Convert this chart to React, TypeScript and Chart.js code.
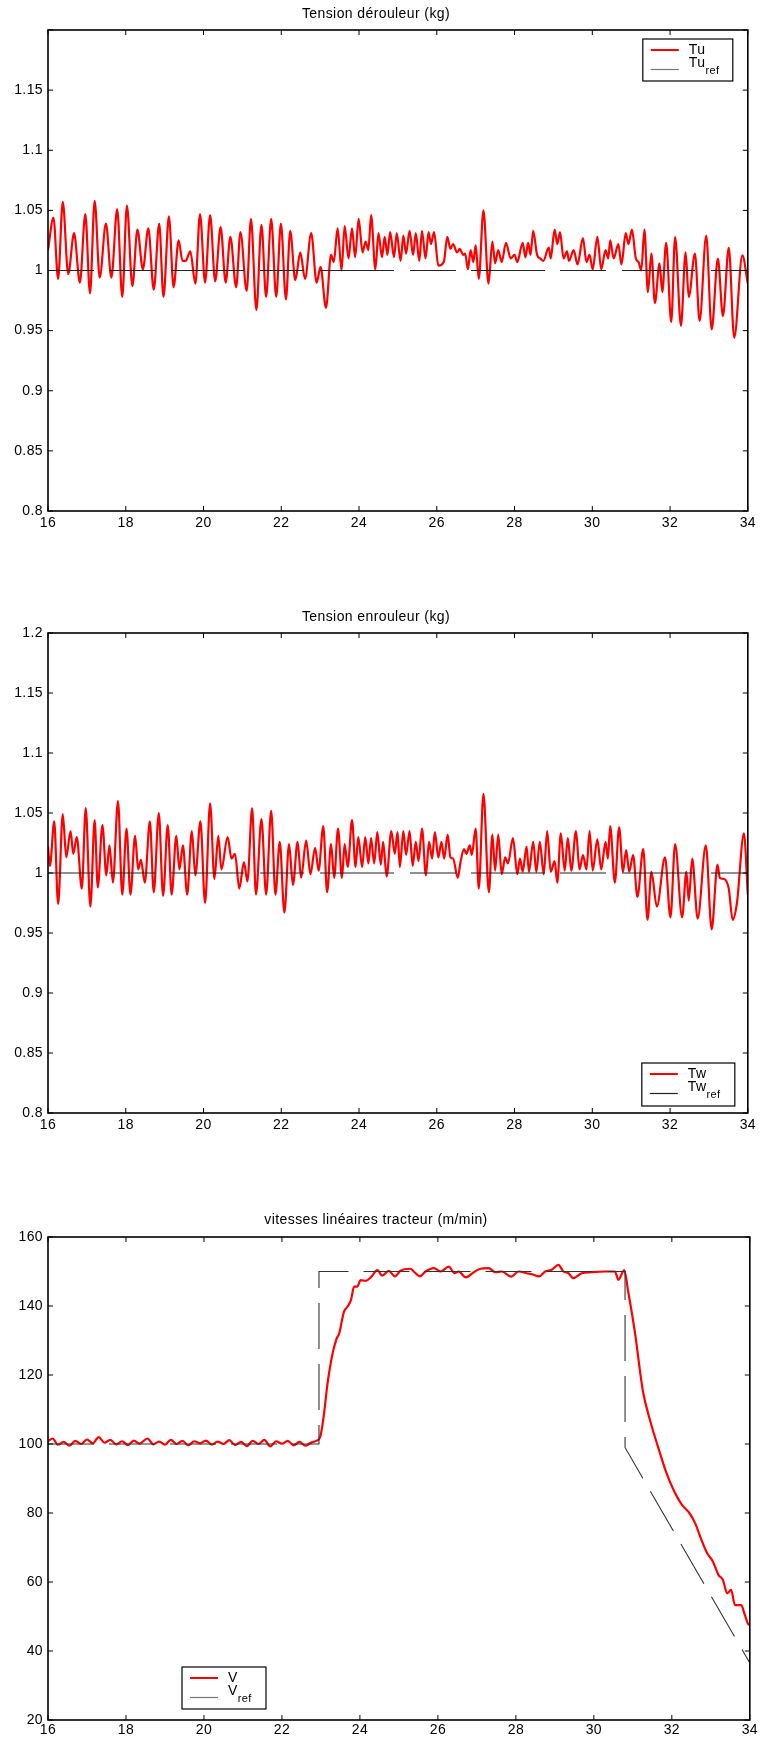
import React, { useEffect, useRef } from 'react';
import { Chart, registerables } from 'chart.js';

Chart.register(...registerables);

const FONT = "'Liberation Sans', Arial, Helvetica, sans-serif";
Chart.defaults.font.family = FONT;
Chart.defaults.font.size = 14;
Chart.defaults.color = '#000';

// ---------- axis ticks ----------
const timeTicks = [16, 18, 20, 22, 24, 26, 28, 30, 32, 34];
const timeTickLabels = ['16', '18', '20', '22', '24', '26', '28', '30', '32', '34'];
const tensionTicks = [0.8, 0.85, 0.9, 0.95, 1, 1.05, 1.1, 1.15, 1.2];
const tuTickLabels = ['0.8', '0.85', '0.9', '0.95', '1', '1.05', '1.1', '1.15', ''];
const twTickLabels = ['0.8', '0.85', '0.9', '0.95', '1', '1.05', '1.1', '1.15', '1.2'];
const speedTicks = [20, 40, 60, 80, 100, 120, 140, 160];
const speedTickLabels = ['20', '40', '60', '80', '100', '120', '140', '160'];

// ---------- Tension dérouleur ----------
const tuTime = [
  16.00, 16.14, 16.26, 16.38, 16.52, 16.67, 16.82, 16.96, 17.08, 17.20,
  17.33, 17.49, 17.63, 17.78, 17.91, 18.03, 18.17, 18.30, 18.44, 18.58,
  18.72, 18.86, 18.97, 19.11, 19.23, 19.36, 19.46, 19.54, 19.66, 19.79,
  19.91, 20.04, 20.17, 20.30, 20.44, 20.57, 20.69, 20.84, 20.95, 21.11,
  21.22, 21.36, 21.49, 21.61, 21.74, 21.87, 21.99, 22.12, 22.23, 22.36,
  22.49, 22.61, 22.77, 22.91, 23.01, 23.15, 23.28, 23.35, 23.45, 23.55,
  23.63, 23.73, 23.82, 23.90, 23.99, 24.09, 24.17, 24.24, 24.31, 24.42,
  24.50, 24.59, 24.66, 24.73, 24.80, 24.90, 24.97, 25.07, 25.14, 25.21,
  25.30, 25.39, 25.46, 25.55, 25.62, 25.71, 25.79, 25.85, 25.93, 26.04,
  26.18, 26.27, 26.35, 26.42, 26.52, 26.59, 26.68, 26.73, 26.80, 26.87,
  26.94, 27.00, 27.08, 27.20, 27.33, 27.43, 27.50, 27.58, 27.67, 27.78,
  27.90, 28.00, 28.07, 28.21, 28.28, 28.35, 28.41, 28.48, 28.58, 28.66,
  28.74, 28.88, 28.93, 29.03, 29.10, 29.17, 29.26, 29.35, 29.40, 29.52,
  29.62, 29.76, 29.85, 29.93, 30.01, 30.13, 30.23, 30.34, 30.41, 30.46,
  30.55, 30.67, 30.75, 30.86, 30.93, 31.02, 31.12, 31.19, 31.26, 31.34,
  31.43, 31.52, 31.61, 31.73, 31.80, 31.90, 32.03, 32.13, 32.28, 32.40,
  32.48, 32.64, 32.76, 32.93, 33.07, 33.23, 33.36, 33.51, 33.65, 33.86, 34.00,
];
const tuValues = [
  1.017, 1.044, 0.993, 1.057, 0.997, 1.031, 0.990, 1.047, 0.981, 1.058,
  0.994, 1.039, 0.994, 1.051, 0.978, 1.054, 0.987, 1.034, 1.001, 1.035,
  0.984, 1.039, 0.978, 1.045, 0.986, 1.025, 1.008, 1.008, 1.016, 0.989,
  1.047, 0.990, 1.046, 0.991, 1.036, 0.990, 1.028, 0.986, 1.032, 0.983,
  1.043, 0.967, 1.038, 0.978, 1.043, 0.978, 1.039, 0.976, 1.033, 0.992,
  1.015, 0.993, 1.031, 0.990, 1.003, 0.969, 1.013, 1.007, 1.035, 1.000,
  1.037, 1.010, 1.035, 1.011, 1.043, 1.015, 1.024, 1.017, 1.046, 1.001,
  1.031, 1.011, 1.028, 1.013, 1.032, 1.011, 1.031, 1.008, 1.029, 1.014,
  1.033, 1.013, 1.031, 1.008, 1.033, 1.010, 1.032, 1.022, 1.032, 1.004,
  1.007, 1.028, 1.018, 1.022, 1.015, 1.018, 1.013, 1.014, 1.001, 1.017,
  1.007, 1.021, 0.993, 1.050, 0.989, 1.024, 1.006, 1.017, 1.007, 1.023,
  1.010, 1.013, 1.007, 1.023, 1.011, 1.023, 1.013, 1.033, 1.013, 1.010,
  1.008, 1.019, 1.010, 1.034, 1.022, 1.032, 1.010, 1.016, 1.008, 1.017,
  1.005, 1.027, 1.007, 1.013, 1.001, 1.028, 1.001, 1.017, 1.010, 1.025,
  1.010, 1.022, 1.005, 1.031, 1.022, 1.034, 1.010, 1.007, 1.000, 1.034,
  0.982, 1.014, 0.973, 1.006, 0.982, 1.023, 0.957, 1.028, 0.954, 1.015,
  0.978, 1.014, 0.958, 1.029, 0.951, 1.010, 0.962, 1.019, 0.944, 1.0125, 0.989,
];
const tuRefTime = [16, 34];
const tuRefValues = [1, 1];

// ---------- Tension enrouleur ----------
const twTime = [
  16.00, 16.05, 16.16, 16.26, 16.38, 16.47, 16.58, 16.65, 16.74, 16.87,
  16.97, 17.09, 17.20, 17.28, 17.40, 17.50, 17.58, 17.67, 17.80, 17.91,
  18.02, 18.12, 18.24, 18.32, 18.39, 18.49, 18.62, 18.72, 18.85, 18.96,
  19.08, 19.18, 19.30, 19.38, 19.47, 19.58, 19.70, 19.79, 19.92, 20.04,
  20.17, 20.28, 20.38, 20.46, 20.62, 20.72, 20.81, 20.92, 21.04, 21.13,
  21.25, 21.35, 21.49, 21.61, 21.74, 21.85, 21.96, 22.08, 22.20, 22.30,
  22.42, 22.51, 22.64, 22.75, 22.87, 22.96, 23.08, 23.18, 23.28, 23.36,
  23.46, 23.56, 23.63, 23.71, 23.82, 23.91, 23.98, 24.08, 24.16, 24.24,
  24.31, 24.39, 24.47, 24.56, 24.62, 24.71, 24.83, 24.92, 24.99, 25.05,
  25.14, 25.21, 25.30, 25.38, 25.46, 25.53, 25.62, 25.72, 25.80, 25.88,
  25.95, 26.04, 26.12, 26.19, 26.28, 26.35, 26.42, 26.54, 26.61, 26.70,
  26.76, 26.85, 26.90, 27.00, 27.08, 27.20, 27.34, 27.43, 27.50, 27.58,
  27.67, 27.76, 27.83, 27.96, 28.07, 28.14, 28.21, 28.31, 28.37, 28.48,
  28.56, 28.65, 28.75, 28.84, 28.93, 29.03, 29.10, 29.19, 29.29, 29.37,
  29.46, 29.58, 29.67, 29.76, 29.85, 29.93, 30.01, 30.13, 30.23, 30.34,
  30.40, 30.46, 30.58, 30.69, 30.79, 30.87, 30.95, 31.05, 31.16, 31.31,
  31.42, 31.52, 31.66, 31.87, 32.01, 32.13, 32.31, 32.42, 32.48, 32.57,
  32.71, 32.92, 33.07, 33.22, 33.28, 33.39, 33.51, 33.61, 33.72, 33.90, 34.00,
];
const twValues = [
  1.022, 1.006, 1.043, 0.974, 1.049, 1.013, 1.035, 1.016, 1.030, 0.987,
  1.054, 0.972, 1.044, 0.988, 1.040, 0.998, 1.023, 0.992, 1.060, 0.982,
  1.037, 0.982, 1.031, 1.003, 1.011, 0.992, 1.043, 0.984, 1.050, 0.981,
  1.040, 0.982, 1.031, 1.003, 1.023, 0.982, 1.035, 0.998, 1.043, 0.975,
  1.058, 0.995, 1.031, 1.003, 1.030, 1.012, 1.016, 0.987, 1.009, 0.993,
  1.054, 0.982, 1.045, 0.982, 1.052, 0.982, 1.026, 0.967, 1.024, 0.990,
  1.026, 0.996, 1.027, 0.999, 1.021, 1.002, 1.039, 0.984, 1.024, 0.996,
  1.037, 0.996, 1.024, 1.005, 1.044, 1.005, 1.030, 1.005, 1.030, 1.008,
  1.029, 1.008, 1.034, 1.007, 1.026, 0.997, 1.035, 1.016, 1.034, 1.005,
  1.035, 1.015, 1.035, 1.006, 1.026, 1.010, 1.037, 0.998, 1.026, 1.012,
  1.034, 1.013, 1.026, 1.012, 1.032, 1.013, 1.012, 0.996, 1.009, 1.020,
  1.016, 1.023, 1.015, 1.037, 0.987, 1.066, 0.984, 1.032, 1.002, 1.032,
  0.999, 1.013, 1.008, 1.029, 0.999, 1.012, 1.001, 1.022, 1.001, 1.026,
  1.001, 1.026, 0.999, 1.035, 1.001, 1.010, 0.992, 1.033, 1.002, 1.029,
  1.002, 1.035, 1.003, 1.015, 1.003, 1.035, 1.002, 1.028, 1.003, 1.026,
  1.012, 1.039, 0.992, 1.038, 1.001, 1.019, 1.001, 1.015, 0.980, 1.020,
  0.961, 1.001, 0.972, 1.013, 0.963, 1.024, 0.963, 1.001, 0.977, 1.012,
  0.962, 1.023, 0.953, 1.007, 0.996, 0.995, 0.987, 0.961, 0.975, 1.033, 0.982,
];
const twRefTime = [16, 34];
const twRefValues = [1, 1];

// ---------- vitesses linéaires tracteur ----------
const vTime = [
  16.00, 16.12, 16.25, 16.40, 16.55, 16.70, 16.85, 17.00, 17.15, 17.30,
  17.45, 17.60, 17.75, 17.90, 18.05, 18.20, 18.35, 18.55, 18.70, 18.85,
  19.00, 19.15, 19.30, 19.45, 19.60, 19.75, 19.90, 20.05, 20.20, 20.35,
  20.50, 20.65, 20.80, 20.95, 21.10, 21.25, 21.40, 21.55, 21.70, 21.85,
  22.00, 22.15, 22.30, 22.45, 22.60, 22.75, 22.88, 22.98, 23.07, 23.17,
  23.30, 23.40, 23.47, 23.59, 23.68, 23.77, 23.85, 23.93, 24.02, 24.15,
  24.28, 24.45, 24.57, 24.74, 24.90, 25.04, 25.30, 25.38, 25.54, 25.68,
  25.90, 26.07, 26.28, 26.43, 26.53, 26.72, 26.92, 27.09, 27.30, 27.47,
  27.64, 27.88, 28.07, 28.28, 28.41, 28.60, 28.75, 28.92, 29.09, 29.22,
  29.35, 29.47, 29.69, 29.94, 30.29, 30.54, 30.63, 30.78, 30.88, 31.05,
  31.26, 31.45, 31.65, 31.85, 32.05, 32.25, 32.45, 32.60, 32.75, 32.90,
  33.05, 33.20, 33.31, 33.42, 33.52, 33.62, 33.78, 33.86, 33.95, 34.00,
];
const vValues = [
  100.8, 101.6, 99.8, 100.6, 99.5, 100.9, 100.0, 101.3, 100.2, 102.0,
  100.4, 101.2, 99.9, 100.8, 99.7, 101.0, 100.1, 101.6, 99.9, 100.7,
  99.8, 101.2, 100.0, 100.9, 99.6, 100.8, 100.2, 101.0, 99.8, 100.7,
  100.0, 101.1, 99.7, 100.6, 99.4, 100.9, 100.0, 101.2, 99.3, 100.8,
  100.1, 100.9, 99.6, 100.6, 99.5, 100.4, 100.9, 102.0, 108.0, 117.6,
  126.3, 130.5, 132.1, 138.3, 139.8, 141.7, 145.6, 145.6, 147.5, 147.3,
  148.3, 150.4, 148.8, 150.2, 148.6, 150.2, 150.8, 150.0, 148.6, 150.0,
  151.0, 150.0, 151.4, 149.5, 150.0, 148.3, 149.8, 150.8, 151.0, 149.8,
  150.0, 148.5, 150.0, 149.5, 149.2, 148.6, 150.0, 150.5, 151.9, 150.0,
  149.5, 148.1, 149.5, 149.8, 150.0, 150.0, 147.6, 150.4, 144.2, 132.6,
  115.2, 106.5, 99.0, 92.0, 86.5, 82.5, 80.0, 77.0, 72.5, 68.5,
  66.0, 62.0, 60.6, 56.7, 57.7, 53.3, 53.3, 50.9, 48.0, 47.5,
];
const vRefTime = [16, 22.95, 22.95, 30.8, 30.8, 34];
const vRefValues = [100, 100, 150, 150, 99, 36.5];

// ---------- helpers / plugins ----------
const zip = (xs: number[], ys: number[]) => xs.map((x, i) => ({ x, y: ys[i] }));

const spacingPlugin = {
  id: 'mlSpacing',
  beforeUpdate(chart: any) { (chart.ctx as any).letterSpacing = '0.4px'; },
  beforeDraw(chart: any) { (chart.ctx as any).letterSpacing = '0.4px'; },
};

const framePlugin = {
  id: 'mlFrame',
  afterDatasetsDraw(chart: any) {
    const { ctx, chartArea: a, scales } = chart;
    ctx.save();
    ctx.strokeStyle = '#000';
    ctx.lineWidth = 1;
    const L = 5;
    ctx.beginPath();
    scales.x.ticks.forEach((t: any) => {
      const px = scales.x.getPixelForValue(t.value);
      ctx.moveTo(px, a.bottom); ctx.lineTo(px, a.bottom - L);
      ctx.moveTo(px, a.top); ctx.lineTo(px, a.top + L);
    });
    scales.y.ticks.forEach((t: any) => {
      const py = scales.y.getPixelForValue(t.value);
      ctx.moveTo(a.left, py); ctx.lineTo(a.left + L, py);
      ctx.moveTo(a.right, py); ctx.lineTo(a.right - L, py);
    });
    ctx.stroke();
    ctx.lineWidth = 1.6;
    ctx.strokeRect(a.left, a.top, a.right - a.left, a.bottom - a.top);
    ctx.restore();
  },
};

const legendPlugin = {
  id: 'mlLegend',
  afterDraw(chart: any, _args: any, o: any) {
    if (!o || !o.label) return;
    const { ctx, chartArea: a } = chart;
    const left = o.side === 'right' ? a.right - o.offX - o.w : a.left + o.offX;
    const top = o.vert === 'top' ? a.top + o.offY : a.bottom - o.offY - o.h;
    ctx.save();
    ctx.fillStyle = '#fff';
    ctx.fillRect(left, top, o.w, o.h);
    ctx.strokeStyle = '#000';
    ctx.lineWidth = 1.2;
    ctx.strokeRect(left, top, o.w, o.h);
    ctx.beginPath();
    ctx.strokeStyle = '#ff0000';
    ctx.lineWidth = 2;
    ctx.moveTo(left + 8, top + 11); ctx.lineTo(left + 36, top + 11);
    ctx.stroke();
    ctx.beginPath();
    ctx.strokeStyle = o.refColor;
    ctx.lineWidth = 1.2;
    ctx.moveTo(left + 8, top + 30.5); ctx.lineTo(left + 36, top + 30.5);
    ctx.stroke();
    ctx.fillStyle = '#000';
    ctx.textAlign = 'left';
    ctx.textBaseline = 'alphabetic';
    ctx.font = `14px ${FONT}`;
    ctx.fillText(o.label, left + 46, top + 14.5);
    ctx.fillText(o.label, left + 46, top + 28);
    const w1 = ctx.measureText(o.label).width;
    ctx.font = `11px ${FONT}`;
    ctx.fillText('ref', left + 46 + w1, top + 35);
    ctx.restore();
  },
};

type PlotSpec = {
  title: string;
  titlePad: { top: number; bottom: number };
  xHeight: number;
  xPad: number;
  time: number[];
  values: number[];
  refTime: number[];
  refValues: number[];
  refDash: number[];
  refColor: string;
  yMin: number;
  yMax: number;
  yTicks: number[];
  yLabels: string[];
  legend: any;
};

function buildConfig(p: PlotSpec): any {
  return {
    type: 'line',
    data: {
      datasets: [
        {
          data: zip(p.refTime, p.refValues),
          borderColor: p.refColor,
          borderWidth: 1.1,
          borderDash: p.refDash,
          pointRadius: 0,
          tension: 0,
        },
        {
          data: zip(p.time, p.values),
          borderColor: '#ff0000',
          borderWidth: 2.2,
          pointRadius: 0,
          cubicInterpolationMode: 'monotone',
        },
      ],
    },
    options: {
      animation: false,
      responsive: false,
      events: [],
      layout: { padding: { left: 0, right: 8, top: 0, bottom: 0 } },
      plugins: {
        legend: { display: false },
        tooltip: { enabled: false },
        title: {
          display: true,
          text: p.title,
          color: '#000',
          font: { size: 14, weight: 'normal', family: FONT },
          padding: p.titlePad,
        },
        mlLegend: p.legend,
      },
      scales: {
        x: {
          type: 'linear',
          min: 16,
          max: 34,
          grid: { display: false, drawTicks: false },
          border: { display: false },
          afterBuildTicks: (s: any) => { s.ticks = timeTicks.map((v) => ({ value: v })); },
          afterFit: (s: any) => { s.height = p.xHeight; },
          ticks: {
            callback: (_v: any, i: number) => timeTickLabels[i],
            padding: p.xPad,
            color: '#000',
            font: { size: 14 },
            maxRotation: 0,
            autoSkip: false,
          },
        },
        y: {
          type: 'linear',
          min: p.yMin,
          max: p.yMax,
          grid: { display: false, drawTicks: false },
          border: { display: false },
          afterBuildTicks: (s: any) => { s.ticks = p.yTicks.map((v) => ({ value: v })); },
          afterFit: (s: any) => { s.width = 48; },
          ticks: {
            callback: (_v: any, i: number) => p.yLabels[i],
            padding: 5,
            color: '#000',
            font: { size: 14 },
            autoSkip: false,
          },
        },
      },
    },
    plugins: [spacingPlugin, framePlugin, legendPlugin],
  };
}

function Plot({ top, height, spec }: { top: number; height: number; spec: PlotSpec }) {
  const ref = useRef<HTMLCanvasElement>(null);
  useEffect(() => {
    const chart = new Chart(ref.current as HTMLCanvasElement, buildConfig(spec));
    return () => chart.destroy();
  }, []);
  return (
    <canvas
      ref={ref}
      width={760}
      height={height}
      style={{ position: 'absolute', left: 0, top, width: 760, height, display: 'block' }}
    />
  );
}

const tensionDash = [46, 15, 47, 15, 73, 16, 44, 16, 74, 16, 46, 15, 74, 15, 46, 16, 73, 16, 60];

const specTu: PlotSpec = {
  title: 'Tension dérouleur (kg)',
  titlePad: { top: 5.6, bottom: 7.6 },
  xHeight: 49,
  xPad: 4,
  time: tuTime,
  values: tuValues,
  refTime: tuRefTime,
  refValues: tuRefValues,
  refDash: tensionDash,
  refColor: '#222',
  yMin: 0.8,
  yMax: 1.2,
  yTicks: tensionTicks,
  yLabels: tuTickLabels,
  legend: { label: 'Tu', side: 'right', vert: 'top', offX: 15, offY: 9, w: 90, h: 42, refColor: '#777' },
};

const specTw: PlotSpec = {
  title: 'Tension enrouleur (kg)',
  titlePad: { top: 8.6, bottom: 7.6 },
  xHeight: 47,
  xPad: 4,
  time: twTime,
  values: twValues,
  refTime: twRefTime,
  refValues: twRefValues,
  refDash: tensionDash,
  refColor: '#222',
  yMin: 0.8,
  yMax: 1.2,
  yTicks: tensionTicks,
  yLabels: twTickLabels,
  legend: { label: 'Tw', side: 'right', vert: 'bottom', offX: 13, offY: 7, w: 93, h: 43, refColor: '#222' },
};

const specV: PlotSpec = {
  title: 'vitesses linéaires tracteur (m/min)',
  titlePad: { top: 11.6, bottom: 8.6 },
  xHeight: 18,
  xPad: 2,
  time: vTime,
  values: vValues,
  refTime: vRefTime,
  refValues: vRefValues,
  refDash: [46, 15],
  refColor: '#333',
  yMin: 20,
  yMax: 160,
  yTicks: speedTicks,
  yLabels: speedTickLabels,
  legend: { label: 'V', side: 'left', vert: 'bottom', offX: 134, offY: 11, w: 84, h: 42, refColor: '#777' },
};

export default function App() {
  return (
    <div style={{ position: 'absolute', left: 0, top: 0, width: 760, height: 1738, background: '#fff', overflow: 'hidden' }}>
      <Plot top={0} height={560} spec={specTu} />
      <Plot top={600} height={560} spec={specTw} />
      <Plot top={1200} height={538} spec={specV} />
    </div>
  );
}
